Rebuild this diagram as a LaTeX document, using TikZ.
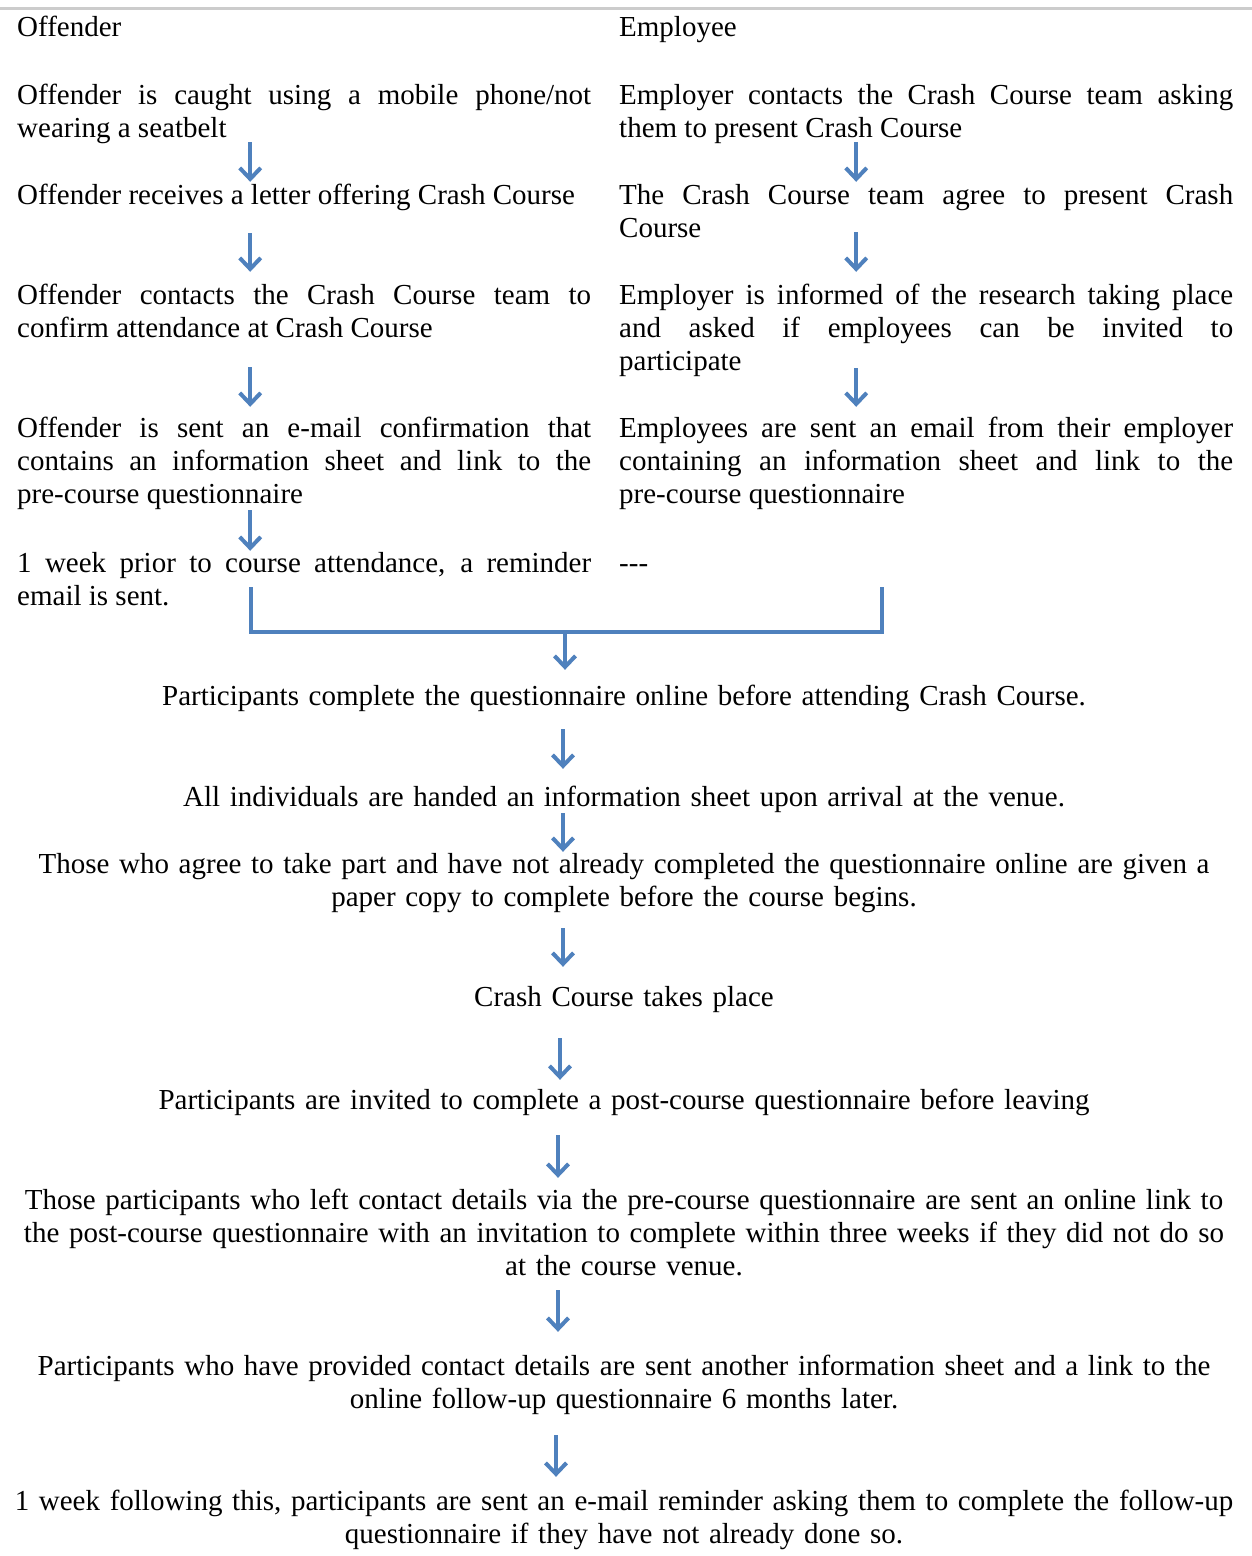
\documentclass[tikz,border=0pt]{standalone}
\usepackage{fontspec}
\setmainfont{Liberation Serif}
\usetikzlibrary{arrows.meta}
\definecolor{arrowblue}{RGB}{79,129,189}
\begin{document}
\begin{tikzpicture}[x=1pt, y=-1pt,
                flow/.style={arrowblue, line width=4pt, -{Straight Barb[length=11pt,width=21pt]}},
                txt/.style={inner sep=0pt, font=\fontsize{29}{33}\selectfont,
                    execute at begin node={\tolerance=10000\hyphenpenalty=10000\strut},
                    execute at end node={\strut}},
                leftcol/.style={txt, anchor=base west, text width=574pt, align=justify},
                rightcol/.style={txt, anchor=base west, text width=614pt, align=justify},
                mid/.style={txt, anchor=base, text width=1250pt, align=center}]
                \useasboundingbox[fill=white] (0,0) rectangle (1252,1556);
                \draw[black!20, line width=3pt] (0,8) -- (1252,8);

                \node[leftcol] (lh) at (17,36) {Offender};
                \node[rightcol] (rh) at (619,36) {Employee};

                \node[leftcol] (l1) at (17,104) {Offender is caught using a mobile phone/not\linebreak wearing a seatbelt};
                \node[leftcol] (l2) at (17,204) {Offender receives a letter offering Crash Course};
                \node[leftcol] (l3) at (17,304) {Offender contacts the Crash Course team to\linebreak confirm attendance at Crash Course};
                \node[leftcol] (l4) at (17,437) {Offender is sent an e-mail confirmation that\linebreak contains an information sheet and link to the\linebreak pre-course questionnaire};
                \node[leftcol] (l5) at (17,572) {1 week prior to course attendance, a reminder\linebreak email is sent.};

                \node[rightcol] (r1) at (619,104) {Employer contacts the Crash Course team asking\linebreak them to present Crash Course};
                \node[rightcol] (r2) at (619,204) {The Crash Course team agree to present Crash\linebreak Course};
                \node[rightcol] (r3) at (619,304) {Employer is informed of the research taking place\linebreak and asked if employees can be invited to\linebreak participate};
                \node[rightcol] (r4) at (619,437) {Employees are sent an email from their employer\linebreak containing an information sheet and link to the\linebreak pre-course questionnaire};
                \node[rightcol] (r5) at (619,572) {-{}-{}-};

                \node[mid] (m1) at (624,705) {Participants complete the questionnaire online before attending Crash Course.};
                \node[mid] (m2) at (624,806) {All individuals are handed an information sheet upon arrival at the venue.};
                \node[mid] (m3) at (624,873) {Those who agree to take part and have not already completed the questionnaire online are given a\\ paper copy to complete before the course begins.};
                \node[mid] (m4) at (624,1006) {Crash Course takes place};
                \node[mid] (m5) at (624,1109) {Participants are invited to complete a post-course questionnaire before leaving};
                \node[mid] (m6) at (624,1209) {Those participants who left contact details via the pre-course questionnaire are sent an online link to\\ the post-course questionnaire with an invitation to complete within three weeks if they did not do so\\ at the course venue.};
                \node[mid] (m7) at (624,1375) {Participants who have provided contact details are sent another information sheet and a link to the\\ online follow-up questionnaire 6 months later.};
                \node[mid] (m8) at (624,1510) {1 week following this, participants are sent an e-mail reminder asking them to complete the follow-up\\ questionnaire if they have not already done so.};

                \draw[flow] ([shift={(-54,-4.9)}]l1.south) -- ([shift={(-54,1.1)}]l2.north);
                \draw[flow] ([shift={(-54,19.1)}]l2.south) -- ([shift={(-54,-8.9)}]l3.north);
                \draw[flow] ([shift={(-54,20.1)}]l3.south) -- ([shift={(-54,-6.9)}]l4.north);
                \draw[flow] ([shift={(-54,-2.9)}]l4.south) -- ([shift={(-54,2.1)}]l5.north);
                \draw[flow] ([shift={(-70,-4.9)}]r1.south) -- ([shift={(-70,1.1)}]r2.north);
                \draw[flow] ([shift={(-70,-14.9)}]r2.south) -- ([shift={(-70,-8.9)}]r3.north);
                \draw[flow] ([shift={(-70,-11.9)}]r3.south) -- ([shift={(-70,-6.9)}]r4.north);

                \coordinate (jl) at (251,587);
                \coordinate (jr) at (882,587);
                \coordinate (jm) at (565,632);
                \draw[arrowblue, line width=4pt] (jl) |- (jm) -| (jr);
                \draw[flow] (jm) -- ([shift={(-59,-11.9)}]m1.north);

                \draw[flow] ([shift={(-61,14.1)}]m1.south) -- ([shift={(-61,-13.9)}]m2.north);
                \draw[flow] ([shift={(-61,-2.9)}]m2.south) -- ([shift={(-61,2.1)}]m3.north);
                \draw[flow] ([shift={(-61,12.1)}]m3.south) -- ([shift={(-61,-15.9)}]m4.north);
                \draw[flow] ([shift={(-64,22.1)}]m4.south) -- ([shift={(-64,-5.9)}]m5.north);
                \draw[flow] ([shift={(-66,16.1)}]m5.south) -- ([shift={(-66,-7.9)}]m6.north);
                \draw[flow] ([shift={(-66,5.1)}]m6.south) -- ([shift={(-66,-19.9)}]m7.north);
                \draw[flow] ([shift={(-68,17.1)}]m7.south) -- ([shift={(-68,-9.9)}]m8.north);
\end{tikzpicture}
\end{document}
